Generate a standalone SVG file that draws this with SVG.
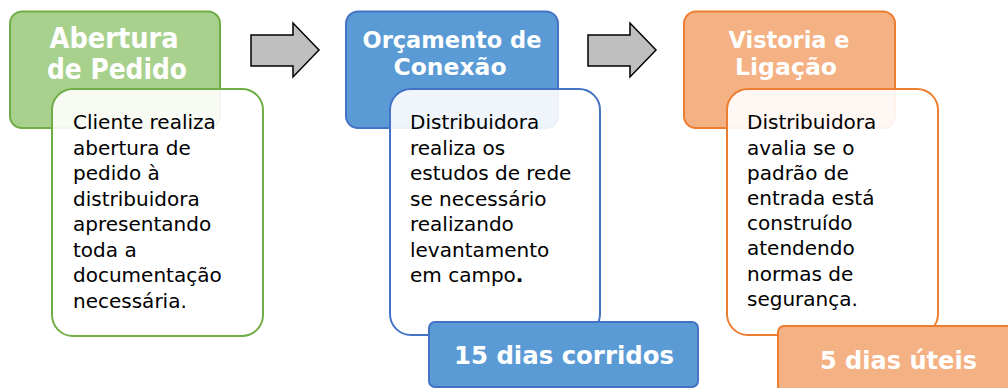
<svg xmlns="http://www.w3.org/2000/svg" width="1008" height="388" viewBox="0 0 1008 388">
<style>
.hdr{font-family:"DejaVu Sans","Liberation Sans",sans-serif;font-weight:bold;fill:#ffffff;text-anchor:middle}
.body{font-family:"DejaVu Sans","Liberation Sans",sans-serif;font-size:20px;fill:#000000}
.card{fill:#ffffff;fill-opacity:0.9;stroke-width:2}
.head{stroke-width:2}
.green{fill:#a9d18e;stroke:#70ad47}
.blue{fill:#5b9bd5;stroke:#4472c4}
.orange{fill:#f4b183;stroke:#ed7d31}
.arrow{fill:#bfbfbf;stroke:#000000;stroke-width:1.5;stroke-linejoin:miter}
</style>
<rect width="1008" height="388" fill="#ffffff"/>
<g id="connectors">
<polygon class="arrow" points="251,35 293,35 293,23 319,50 293,77 293,66 251,66"/>
<polygon class="arrow" points="588,35 630,35 630,23 656,50 630,77 630,66 588,66"/>
</g>
<g id="node-abertura">
<rect class="head green" x="10" y="11.5" width="210" height="116.5" rx="12"/>
<text class="hdr" font-size="28" x="114" y="48" textLength="129" lengthAdjust="spacingAndGlyphs">Abertura</text>
<text class="hdr" font-size="28" x="117" y="79" textLength="140" lengthAdjust="spacingAndGlyphs">de Pedido</text>
<rect class="card" x="52" y="89" width="211" height="247" rx="21" stroke="#70ad47"/>
<text class="body" x="73" y="129.3">
<tspan x="73" dy="0">Cliente realiza</tspan>
<tspan x="73" dy="25.5">abertura de</tspan>
<tspan x="73" dy="25.5">pedido à</tspan>
<tspan x="73" dy="25.5">distribuidora</tspan>
<tspan x="73" dy="25.5">apresentando</tspan>
<tspan x="73" dy="25.5">toda a</tspan>
<tspan x="73" dy="25.5">documentação</tspan>
<tspan x="73" dy="25.5">necessária.</tspan>
</text>
</g>
<g id="node-orcamento">
<rect class="head blue" x="346" y="11.5" width="212" height="116.5" rx="12"/>
<text class="hdr" font-size="22.5" x="452" y="48" textLength="179" lengthAdjust="spacingAndGlyphs">Orçamento de</text>
<text class="hdr" font-size="22.5" x="450" y="75" textLength="113" lengthAdjust="spacingAndGlyphs">Conexão</text>
<rect class="card" x="390" y="89" width="210" height="246" rx="21" stroke="#4472c4"/>
<text class="body" x="410" y="129.3">
<tspan x="410" dy="0">Distribuidora</tspan>
<tspan x="410" dy="25.5">realiza os</tspan>
<tspan x="410" dy="25.5">estudos de rede</tspan>
<tspan x="410" dy="25.5">se necessário</tspan>
<tspan x="410" dy="25.5">realizando</tspan>
<tspan x="410" dy="25.5">levantamento</tspan>
<tspan x="410" dy="25.5">em campo<tspan font-weight="bold">.</tspan></tspan>
</text>
</g>
<g id="badge-15dias">
<rect class="head blue" x="429" y="322" width="269" height="65" rx="6"/>
<text class="hdr" font-size="25.5" x="564" y="364" textLength="220" lengthAdjust="spacingAndGlyphs">15 dias corridos</text>
</g>
<g id="node-vistoria">
<rect class="head orange" x="684" y="11.5" width="211" height="116.5" rx="12"/>
<text class="hdr" font-size="22.5" x="789" y="48" textLength="121" lengthAdjust="spacingAndGlyphs">Vistoria e</text>
<text class="hdr" font-size="22.5" x="786" y="75" textLength="102" lengthAdjust="spacingAndGlyphs">Ligação</text>
<rect class="card" x="727" y="89" width="211" height="246" rx="21" stroke="#ed7d31"/>
<text class="body" x="747" y="129.3">
<tspan x="747" dy="0">Distribuidora</tspan>
<tspan x="747" dy="25.2">avalia se o</tspan>
<tspan x="747" dy="25.2">padrão de</tspan>
<tspan x="747" dy="25.2">entrada está</tspan>
<tspan x="747" dy="25.2">construído</tspan>
<tspan x="747" dy="25.2">atendendo</tspan>
<tspan x="747" dy="25.2">normas de</tspan>
<tspan x="747" dy="25.2">segurança.</tspan>
</text>
</g>
<g id="badge-5dias">
<rect class="head orange" x="778" y="326" width="241" height="66" rx="6"/>
<text class="hdr" font-size="25.5" x="898.5" y="369" textLength="157" lengthAdjust="spacingAndGlyphs">5 dias úteis</text>
</g>
</svg>
